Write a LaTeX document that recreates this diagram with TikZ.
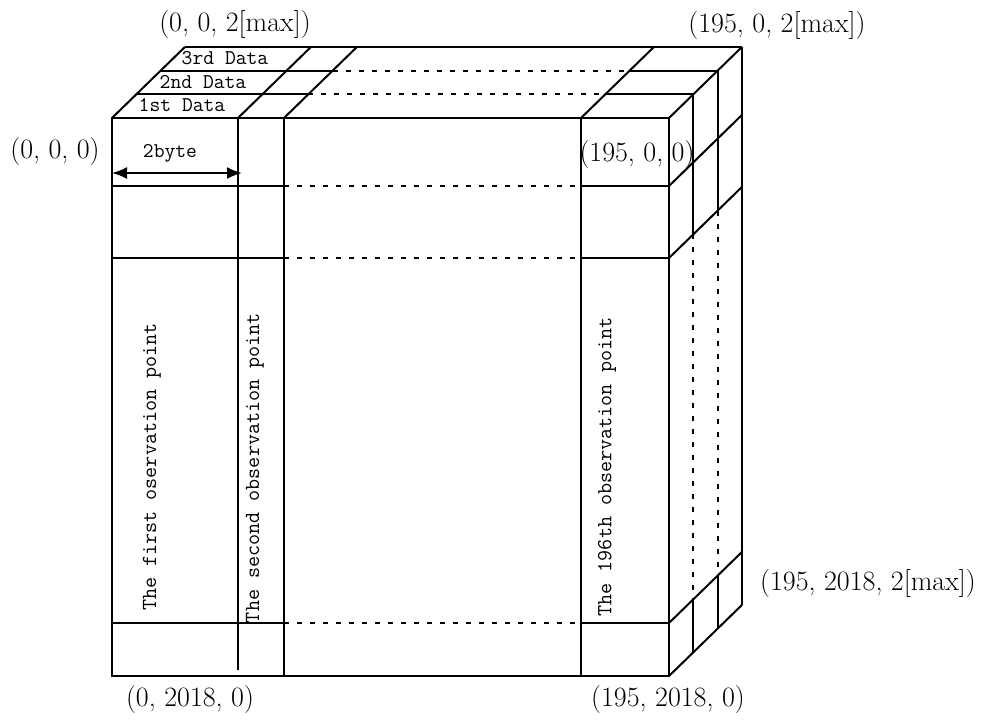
\documentclass[tikz,border=0pt]{standalone}
\usepackage{fontspec}
\usetikzlibrary{arrows.meta}
\tikzset{
  edge/.style={line width=2pt},
  dotedge/.style={line width=2pt, dash pattern=on 5pt off 8pt},
  coordlabel/.style={font=\fontsize{28}{30}\selectfont, inner sep=0pt},
  smalltext/.style={font=\ttfamily\fontsize{21}{23}\selectfont, inner sep=0pt},
  sidetext/.style={font=\ttfamily\fontsize{21.5}{23}\selectfont, inner sep=0pt, rotate=90},
}
\begin{document}
\begin{tikzpicture}[x=1pt,y=-1pt]
\useasboundingbox (0,0) rectangle (1002,720);
% ---------- front face ----------
\draw[edge] (112,118) rectangle (669,676);
\draw[edge] (238,118) -- (238,670);
\draw[edge] (284,118) -- (284,676);
\draw[edge] (581,118) -- (581,676);
\foreach \yy in {186,258,623}{
  \draw[edge] (112,\yy) -- (284,\yy);
  \draw[dotedge] (284,\yy) -- (581,\yy);
  \draw[edge] (581,\yy) -- (669,\yy);
}
% ---------- top face ----------
\draw[edge] (184.9,47) -- (741.9,47);
\draw[edge] (160.6,70.6) -- (332.6,70.6);
\draw[dotedge] (332.6,70.6) -- (629.6,70.6);
\draw[edge] (629.6,70.6) -- (717.6,70.6);
\draw[edge] (136.3,94.3) -- (308.3,94.3);
\draw[dotedge] (308.3,94.3) -- (605.3,94.3);
\draw[edge] (605.3,94.3) -- (693.3,94.3);
\foreach \xx in {112,238,284,581,669}{
  \draw[edge] (\xx,118) -- ++(72.9,-71);
}
% ---------- right side face ----------
\foreach \yy in {186,258,623,676}{
  \draw[edge] (669,\yy) -- ++(72.9,-71);
}
\draw[edge] (693.3,94.3) -- (693.3,234.3);
\draw[dotedge] (693.3,234.3) -- (693.3,599.3);
\draw[edge] (693.3,599.3) -- (693.3,652.3);
\draw[edge] (717.6,70.6) -- (717.6,210.6);
\draw[dotedge] (717.6,210.6) -- (717.6,575.6);
\draw[edge] (717.6,575.6) -- (717.6,628.6);
\draw[edge] (741.9,47) -- (741.9,605);
% ---------- width arrow ----------
\coordinate (arrL) at (112,173);
\coordinate (arrR) at (242,173);
\draw[line width=2pt, {Latex[length=15pt,width=12pt]}-{Latex[length=15pt,width=12pt]}] (arrL) -- (arrR);
\node[smalltext] (bytelbl) at (170,153) {2byte};
% ---------- layer labels ----------
\node[smalltext] (d3) at (225,58) {3rd Data};
\node[smalltext] (d2) at (203,82) {2nd Data};
\node[smalltext] (d1) at (182,105) {1st Data};
% ---------- column labels ----------
\node[sidetext] (c1) at (152,467) {The first oservation point};
\node[sidetext] (c2) at (255,468) {The second observation point};
\node[sidetext] (c3) at (607,467) {The 196th observation point};
% ---------- corner coordinates ----------
\node[coordlabel] (p000) at (55,152) {(0, 0, 0)};
\node[coordlabel] (p002) at (235,25) {(0, 0, 2[max])};
\node[coordlabel] (p1950m) at (777,26) {(195, 0, 2[max])};
\node[coordlabel] (p19500) at (637,155) {(195, 0, 0)};
\node[coordlabel] (p195mm) at (868,584) {(195, 2018, 2[max])};
\node[coordlabel] (p1952018) at (668,700) {(195, 2018, 0)};
\node[coordlabel] (p02018) at (190,700) {(0, 2018, 0)};
\end{tikzpicture}
\end{document}
